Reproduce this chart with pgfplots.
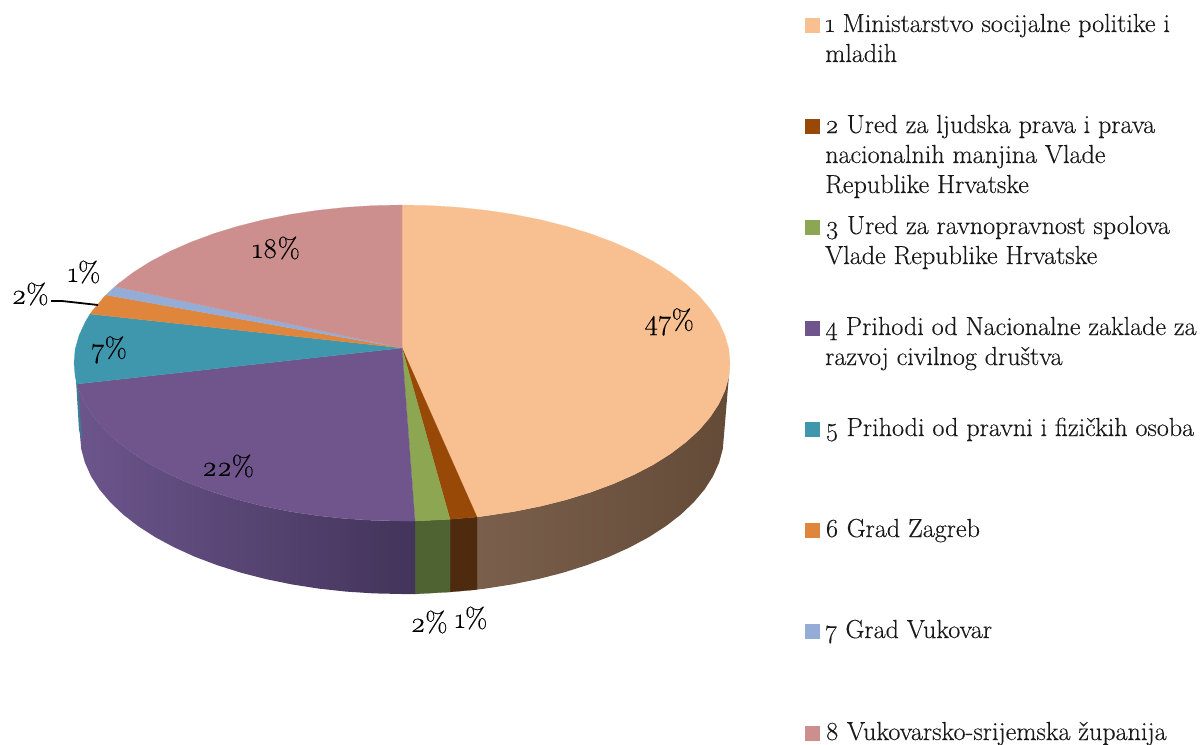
\documentclass[border=0pt]{standalone}
\usepackage{fontspec}
\setmainfont{Latin Modern Roman}[Numbers=OldStyle,FakeBold=0.3]
\usepackage{pgfplots}
\pgfplotsset{compat=1.18}
\definecolor{sA}{HTML}{F8BF90}\definecolor{sB}{HTML}{984807}\definecolor{sC}{HTML}{8CA651}
\definecolor{sD}{HTML}{6F558C}\definecolor{sE}{HTML}{3F97AE}\definecolor{sF}{HTML}{E0863C}
\definecolor{sG}{HTML}{95ADD6}\definecolor{sH}{HTML}{CC8F8D}
\newcommand{\lgd}[1]{\fontsize{26.1}{30}\selectfont #1}
\newcommand{\pc}[1]{\fontsize{28.5}{30}\selectfont #1}
\newcommand{\ltext}[3]{\node[anchor=base west,inner sep=0pt,text=black!90] at (axis cs:#1,#2) {\lgd{#3}};}
\newcommand{\ptext}[3]{\node[anchor=center,inner sep=0pt] at (axis cs:#1,#2) {\pc{#3}};}
\begin{document}
\begin{tikzpicture}
\begin{axis}[scale only axis,width=1204pt,height=744pt,xmin=0,xmax=1204,ymin=0,ymax=744,y dir=reverse,hide axis,clip=false]
% ---- sides
\addplot[draw=none,forget plot,left color={rgb,255:red,122;green,96;blue,76},middle color={rgb,255:red,106;green,80;blue,58},right color={rgb,255:red,100;green,75;blue,55}] coordinates {(730,363)(728.8,376.8)(725,390.4)(718.8,403.9)(710.2,417)(699.3,429.8)(686,442)(670.7,453.6)(653.3,464.6)(633.9,474.7)(612.8,484)(590.1,492.4)(566,499.8)(540.6,506.2)(514.2,511.5)(486.9,515.6)(477,517)(477,589.6)(485.3,588.6)(512.1,584.4)(538.1,579.1)(563,572.7)(586.7,565.2)(609,556.8)(629.7,547.4)(648.7,537.2)(665.8,526.2)(680.9,514.5)(693.8,502.2)(704.6,489.4)(713,476.2)(719.1,462.6)(722.8,448.9)(724,435)(730,363)};
\addplot[fill={rgb,255:red,78;green,42;blue,14},draw={rgb,255:red,78;green,42;blue,14},line width=.2pt,forget plot] coordinates {(477,517)(450,519.3)(450,592)(477,589.6)(477,517)};
\addplot[fill={rgb,255:red,78;green,98;blue,50},draw={rgb,255:red,78;green,98;blue,50},line width=.2pt,forget plot] coordinates {(450,519.3)(415,521)(415,594)(450,592)(450,519.3)};
\addplot[draw=none,forget plot,left color={rgb,255:red,108;green,85;blue,140},right color={rgb,255:red,66;green,52;blue,90}] coordinates {(415,521)(402,521)(373.4,520.4)(345,518.6)(317.1,515.6)(289.8,511.5)(263.4,506.2)(238,499.8)(213.9,492.4)(191.2,484)(170.1,474.7)(150.7,464.6)(133.3,453.6)(118,442)(104.7,429.8)(93.8,417)(85.2,403.9)(79,390.4)(77,384)(80,435)(81.2,448.9)(84.9,462.6)(91,476.2)(99.4,489.4)(110.2,502.2)(123.1,514.5)(138.2,526.2)(155.3,537.2)(174.3,547.4)(195,556.8)(217.3,565.2)(241,572.7)(265.9,579.1)(291.9,584.4)(318.7,588.6)(346.1,591.6)(373.9,593.4)(402,594)(415,594)(415,521)};
\addplot[fill={rgb,255:red,60;green,125;blue,150},draw=none,forget plot] coordinates {(76,380)(78,384)(82,440)(79,430)(76,380)};
% ---- top
\addplot[fill=sA,draw=sA,line width=.2pt,forget plot] coordinates {(402,348)(402,205)(430.6,205.6)(459,207.4)(486.9,210.4)(514.2,214.5)(540.6,219.8)(566,226.2)(590.1,233.6)(612.8,242)(633.9,251.3)(653.3,261.4)(670.7,272.4)(686,284)(699.3,296.2)(710.2,309)(718.8,322.1)(725,335.6)(728.8,349.2)(730,363)(728.8,376.8)(725,390.4)(718.8,403.9)(710.2,417)(699.3,429.8)(686,442)(670.7,453.6)(653.3,464.6)(633.9,474.7)(612.8,484)(590.1,492.4)(566,499.8)(540.6,506.2)(514.2,511.5)(486.9,515.6)(477,517)(402,348)};
\addplot[fill=sB,draw=sB,line width=.2pt,forget plot] coordinates {(402,348)(477,517)(450,519.3)(402,348)};
\addplot[fill=sC,draw=sC,line width=.2pt,forget plot] coordinates {(402,348)(450,519.3)(415,521)(402,348)};
\addplot[fill=sD,draw=sD,line width=.2pt,forget plot] coordinates {(402,348)(415,521)(402,521)(373.4,520.4)(345,518.6)(317.1,515.6)(289.8,511.5)(263.4,506.2)(238,499.8)(213.9,492.4)(191.2,484)(170.1,474.7)(150.7,464.6)(133.3,453.6)(118,442)(104.7,429.8)(93.8,417)(85.2,403.9)(79,390.4)(77,384)(402,348)};
\addplot[fill=sE,draw=sE,line width=.2pt,forget plot] coordinates {(402,348)(77,384)(75.2,376.8)(74,363)(75.2,349.2)(79,335.6)(85.2,322.1)(90,314)(402,348)};
\addplot[fill=sF,draw=sF,line width=.2pt,forget plot] coordinates {(402,348)(90,314)(93.8,309)(104.7,296.2)(106,295)(402,348)};
\addplot[fill=sG,draw=sG,line width=.2pt,forget plot] coordinates {(402,348)(106,295)(115,286.5)(402,348)};
\addplot[fill=sH,draw=sH,line width=.2pt,forget plot] coordinates {(402,348)(115,286.5)(118,284)(133.3,272.4)(150.7,261.4)(170.1,251.3)(191.2,242)(213.9,233.6)(238,226.2)(263.4,219.8)(289.8,214.5)(317.1,210.4)(345,207.4)(373.4,205.6)(402,205)(402,348)};
% ---- leader
\addplot[black,line width=1.8pt,forget plot] coordinates {(51,301)(62,301)(98,305)};
% ---- legend keys
\addplot[only marks,mark=square*,mark size=6.9pt,mark options={draw=sA,fill=sA,line width=.2pt},forget plot] coordinates {(812,25)};
\addplot[only marks,mark=square*,mark size=6.9pt,mark options={draw=sB,fill=sB,line width=.2pt},forget plot] coordinates {(812,126)};
\addplot[only marks,mark=square*,mark size=6.9pt,mark options={draw=sC,fill=sC,line width=.2pt},forget plot] coordinates {(812,227)};
\addplot[only marks,mark=square*,mark size=6.9pt,mark options={draw=sD,fill=sD,line width=.2pt},forget plot] coordinates {(812,328)};
\addplot[only marks,mark=square*,mark size=6.9pt,mark options={draw=sE,fill=sE,line width=.2pt},forget plot] coordinates {(812,429)};
\addplot[only marks,mark=square*,mark size=6.9pt,mark options={draw=sF,fill=sF,line width=.2pt},forget plot] coordinates {(812,530)};
\addplot[only marks,mark=square*,mark size=6.9pt,mark options={draw=sG,fill=sG,line width=.2pt},forget plot] coordinates {(812,631)};
\addplot[only marks,mark=square*,mark size=6.9pt,mark options={draw=sH,fill=sH,line width=.2pt},forget plot] coordinates {(812,733)};
% ---- legend text
\ltext{825}{32}{1 Ministarstvo socijalne politike i}
\ltext{825}{62}{mladih}
\ltext{825}{133}{2 Ured za ljudska prava i prava}
\ltext{825}{163}{nacionalnih manjina Vlade}
\ltext{825}{193}{Republike Hrvatske}
\ltext{825}{234}{3 Ured za ravnopravnost spolova}
\ltext{825}{264}{Vlade Republike Hrvatske}
\ltext{825}{335}{4 Prihodi od Nacionalne zaklade za}
\ltext{825}{365}{razvoj civilnog društva}
\ltext{825}{436}{5 Prihodi od pravni i fizičkih osoba}
\ltext{825}{537}{6 Grad Zagreb}
\ltext{825}{638}{7 Grad Vukovar}
\ltext{825}{740}{8 Vukovarsko-srijemska županija}
% ---- percent labels
\ptext{669}{322}{47\%}
\ptext{276}{248}{18\%}
\ptext{228}{466}{22\%}
\ptext{109}{350}{7\%}
\ptext{30}{294}{2\%}
\ptext{84}{272}{1\%}
\ptext{429}{622}{2\%}
\ptext{471}{618}{1\%}
\end{axis}
\pgfresetboundingbox
\path (0,0) rectangle (1204pt,744pt);
\end{tikzpicture}
\end{document}
